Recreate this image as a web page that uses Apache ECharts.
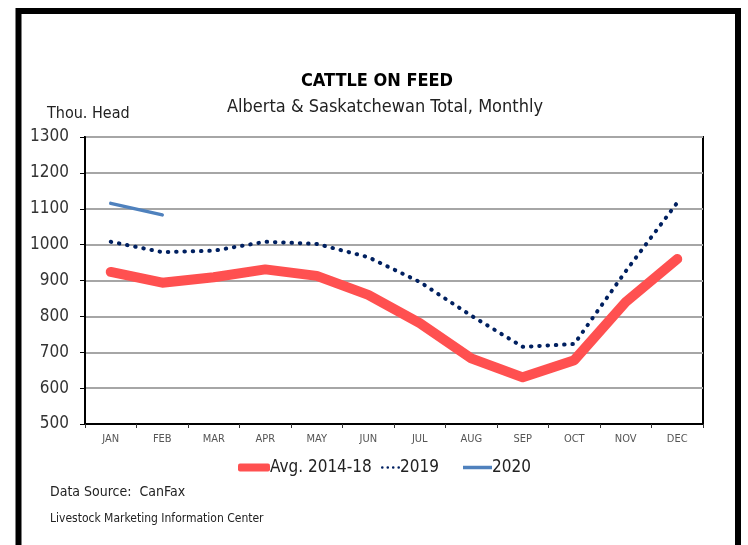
<!DOCTYPE html>
<html>
<head>
<meta charset="utf-8">
<script src="https://cdn.jsdelivr.net/npm/echarts@6/dist/echarts.min.js"></script>
<style>html,body{margin:0;padding:0;background:#fff;}#c{width:748px;height:545px;}</style>
</head>
<body>
<div id="c"></div>
<script>
var months = ['JAN','FEB','MAR','APR','MAY','JUN','JUL','AUG','SEP','OCT','NOV','DEC'];
var avg1418 = [924, 894, 909, 931, 913, 860, 781, 683, 630, 678, 840, 960];
var y2019 = [1008, 979, 983, 1008, 1002, 965, 896, 802, 715, 723, 926, 1117];
var y2020 = [1115, 1083];
var yMin = 500, yMax = 1300, yStep = 100;

var FONT = "'Liberation Sans Narrow', 'DejaVu Sans Condensed', 'Liberation Sans', sans-serif";
var dotsIcon = 'path://M0,1.5A1.5,1.5,0,1,0,3,1.5A1.5,1.5,0,1,0,0,1.5ZM6.3,1.5A1.5,1.5,0,1,0,9.3,1.5A1.5,1.5,0,1,0,6.3,1.5ZM12.6,1.5A1.5,1.5,0,1,0,15.6,1.5A1.5,1.5,0,1,0,12.6,1.5ZM18.9,1.5A1.5,1.5,0,1,0,21.9,1.5A1.5,1.5,0,1,0,18.9,1.5Z';
var legendText = {fontSize: 17, color: '#222', fontFamily: FONT, padding: [0, 0, 0, -5]};
var chart = echarts.init(document.getElementById('c'), null, {renderer: 'canvas'});
chart.setOption({
  backgroundColor: '#ffffff',
  animation: false,
  textStyle: {fontFamily: FONT},
  title: [
    {text: 'CATTLE ON FEED', left: 372, top: 67, textAlign: 'center',
     textStyle: {fontSize: 18, fontWeight: 'bold', color: '#000', fontFamily: FONT}},
    {text: 'Alberta & Saskatchewan Total, Monthly', left: 380, top: 93, textAlign: 'center',
     textStyle: {fontSize: 18, fontWeight: 'normal', color: '#222', fontFamily: FONT}}
  ],
  graphic: [
    {type: 'rect', shape: {x: 18.5, y: 11, width: 719.5, height: 620},
     style: {fill: 'none', stroke: '#000', lineWidth: 6}, silent: true},
    {type: 'text', left: 47, top: 106, style: {text: 'Thou. Head', fontSize: 16, fill: '#222', fontFamily: FONT}},
    {type: 'text', left: 50, top: 485, style: {text: 'Data Source:  CanFax', fontSize: 14, fill: '#222', fontFamily: FONT}},
    {type: 'text', left: 50, top: 513, style: {text: 'Livestock Marketing Information Center', fontSize: 12, fill: '#222', fontFamily: FONT}}
  ],
  legend: [
    {top: 454, left: 233, itemWidth: 32, itemHeight: 8, textStyle: legendText,
     data: [{name: 'Avg. 2014-18', icon: 'roundRect'}]},
    {top: 454, left: 376, itemWidth: 19, itemHeight: 3, textStyle: legendText,
     data: [{name: '2019', icon: dotsIcon}]},
    {top: 454, left: 458, itemWidth: 29, itemHeight: 3.5, textStyle: legendText,
     data: [{name: '2020', icon: 'rect'}]}
  ],
  grid: {left: 85, right: 45, top: 137, bottom: 121, containLabel: false,
         show: true, borderColor: '#000', borderWidth: 2, backgroundColor: 'transparent'},
  xAxis: {
    type: 'category', data: months, boundaryGap: true,
    axisLine: {lineStyle: {color: '#000', width: 2}},
    axisTick: {show: true, length: 4, lineStyle: {color: '#333', width: 1}},
    axisLabel: {fontSize: 11, color: '#555', margin: 10, fontFamily: FONT},
    splitLine: {show: false}
  },
  yAxis: {
    type: 'value', min: yMin, max: yMax, interval: yStep,
    axisLine: {show: true, lineStyle: {color: '#000', width: 2}},
    axisTick: {show: true, length: 5, lineStyle: {color: '#000', width: 1}},
    axisLabel: {fontSize: 17, color: '#333', margin: 16, fontFamily: FONT,
                formatter: function (v) { return String(v); }},
    splitLine: {show: true, lineStyle: {color: '#a6a6a6', width: 2}}
  },
  series: [
    {name: 'Avg. 2014-18', type: 'line', data: avg1418, symbol: 'none', z: 3,
     color: '#FF5050',
     lineStyle: {color: '#FF5050', width: 10, cap: 'round', join: 'round'}},
    {name: '2019', type: 'line', data: y2019, symbol: 'none', z: 4,
     color: '#002060',
     lineStyle: {color: '#002060', width: 4, type: [0.5, 7.8], cap: 'round', join: 'round'}},
    {name: '2020', type: 'line', data: y2020, symbol: 'none', z: 5,
     color: '#4F81BD',
     lineStyle: {color: '#4F81BD', width: 3.5, cap: 'round'}}
  ]
});
</script>
</body>
</html>
